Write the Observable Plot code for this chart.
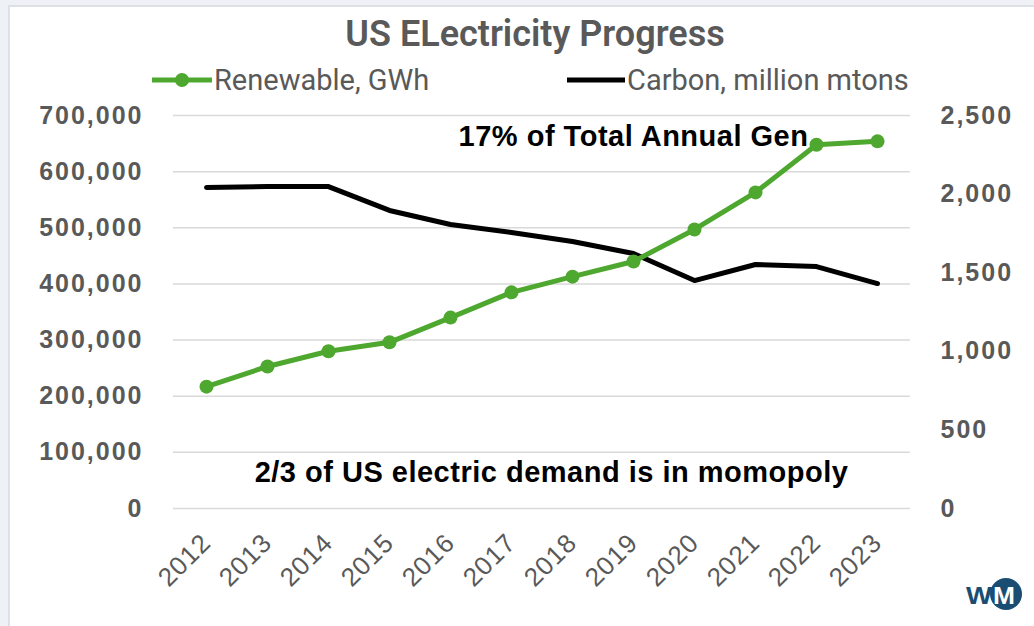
<!DOCTYPE html>
<html>
<head>
<meta charset="utf-8">
<script src="https://cdn.jsdelivr.net/npm/d3@7"></script>
<script src="https://cdn.jsdelivr.net/npm/@observablehq/plot@0.6"></script>
<style>
  html, body { margin: 0; padding: 0; }
  body { width: 1034px; height: 626px; background: #eef1f5; position: relative; overflow: hidden; font-family: "Liberation Sans", Arial, sans-serif; }
  #card { position: absolute; left: 8px; top: 5px; width: 1026px; height: 621px; background: #fff; border-left: 2px solid #dde1e6; border-top: 2px solid #dde1e6; box-sizing: border-box; }
  #title { position: absolute; left: 0; width: 1070px; top: 13px; text-align: center; font-family: "Roboto", sans-serif; font-weight: 600; font-size: 36px; line-height: 42px; color: #595959; }
  #legend { position: absolute; top: 62px; left: 0; width: 1034px; height: 36px; }
  .leg { position: absolute; top: 0; font-family: "Roboto", sans-serif; font-size: 29px; line-height: 36px; color: #595959; white-space: nowrap; }
  #chart { position: absolute; left: 0; top: 0; }
  #chart svg g[aria-label="y-axis tick label"] text { letter-spacing: 2px; }
  #chart svg g[aria-label="x-axis tick label"] text { letter-spacing: 1px; }
  #chart svg g[aria-label="text"] text { letter-spacing: 0.5px; }
  #logo { position: absolute; left: 962px; top: 574px; }
</style>
</head>
<body>
<div id="card"></div>
<div id="title">US ELectricity Progress</div>
<div id="legend"></div>
<div id="chart"></div>
<svg id="logo" width="70" height="40" viewBox="0 0 70 40">
  <circle cx="44" cy="20" r="16" fill="#1b4d72"/>
  <text x="4" y="30" font-family="Liberation Sans" font-weight="bold" font-size="24" fill="#1b4d72" textLength="26" lengthAdjust="spacingAndGlyphs">W</text>
  <text x="31" y="30" font-family="Liberation Sans" font-weight="bold" font-size="24" fill="#ffffff" textLength="22" lengthAdjust="spacingAndGlyphs">M</text>
</svg>
<script>
const years = ["2012","2013","2014","2015","2016","2017","2018","2019","2020","2021","2022","2023"];
const renewable = [217000, 253000, 280000, 296000, 340000, 385000, 413000, 440000, 497000, 563000, 648000, 654000];
const carbon = [2042, 2048, 2048, 1896, 1807, 1756, 1698, 1622, 1450, 1552, 1539, 1431];
const leftTicks = [0, 100000, 200000, 300000, 400000, 500000, 600000, 700000];
const rightTicks = [0, 500, 1000, 1500, 2000, 2500];
const seriesNames = ["Renewable, GWh", "Carbon, million mtons"];
const notes = ["17% of Total Annual Gen", "2/3 of US electric demand is in momopoly"];

const green = "#4ea72e";
const gray = "#595959";
const k = 700000 / 2500;

const data = years.map((year, i) => ({year, renewable: renewable[i], carbon: carbon[i]}));

// legend
const legend = document.getElementById("legend");
legend.innerHTML = `
  <svg style="position:absolute;left:150px;top:3px" width="64" height="30"><line x1="2" y1="15" x2="62" y2="15" stroke="${green}" stroke-width="5"/><circle cx="32" cy="15" r="7" fill="${green}"/></svg>
  <div class="leg" style="left:214px">${seriesNames[0]}</div>
  <svg style="position:absolute;left:565px;top:3px" width="62" height="30"><line x1="2" y1="15" x2="60" y2="15" stroke="#000" stroke-width="5"/></svg>
  <div class="leg" style="left:627px">${seriesNames[1]}</div>`;

const fmt = d3.format(",");
const chart = Plot.plot({
  width: 1034,
  height: 626,
  marginLeft: 173,
  marginRight: 124,
  marginTop: 115,
  marginBottom: 118,
  style: {background: "transparent", fontFamily: "Liberation Sans, Arial, sans-serif", overflow: "visible"},
  x: {type: "point", domain: years, padding: 0.5},
  y: {domain: [0, 700000]},
  marks: [
    Plot.ruleY(leftTicks, {stroke: "#d9d9d9", strokeWidth: 1.5}),
    Plot.axisY({ticks: leftTicks, tickSize: 0, tickPadding: 30, tickFormat: fmt, fontSize: 25, fontWeight: "bold", fill: gray, label: null}),
    Plot.axisY({anchor: "right", ticks: rightTicks.map(v => v * k), tickSize: 0, tickPadding: 30, tickFormat: d => fmt(Math.round(d / k)), fontSize: 25, fontWeight: "bold", fill: gray, label: null}),
    Plot.axisX({tickRotate: -45, tickSize: 0, tickPadding: 30, fontSize: 26, fill: gray, label: null}),
    Plot.line(data, {x: "year", y: d => d.carbon * k, stroke: "#000", strokeWidth: 5, strokeLinejoin: "round", strokeLinecap: "round"}),
    Plot.line(data, {x: "year", y: "renewable", stroke: green, strokeWidth: 5, strokeLinejoin: "round"}),
    Plot.dot(data, {x: "year", y: "renewable", r: 7, fill: green}),
    Plot.text([notes[0]], {x: () => "2019", y: () => 662000, dx: 0, fontSize: 29, fontWeight: "bold", fill: "#000"}),
    Plot.text([notes[1]], {x: () => "2017", y: () => 63000, dx: 40, fontSize: 29, fontWeight: "bold", fill: "#000"})
  ]
});
document.getElementById("chart").appendChild(chart);
</script>
</body>
</html>
